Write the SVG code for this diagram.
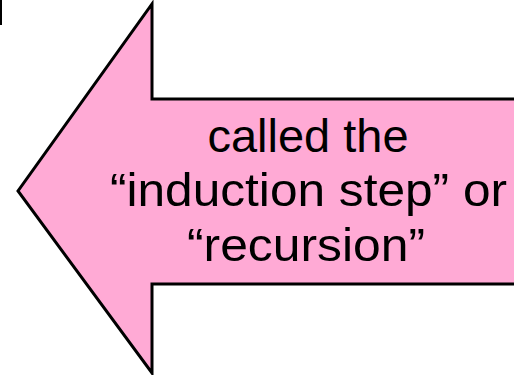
<svg xmlns="http://www.w3.org/2000/svg" width="514" height="375" viewBox="0 0 514 375">
<style>
.lbl{font-family:"Liberation Sans",Arial,sans-serif;font-size:47px;fill:#000;text-anchor:middle}
</style>
<rect width="514" height="375" fill="#fff"/>
<g id="corner-box">
<rect x="-20" y="-20" width="21" height="44" fill="#9FC4E8" stroke="#000" stroke-width="2"/>
</g>
<g id="arrow">
<polygon points="152,4 152,99 520,99 520,284 152,284 152,373 18,191" fill="#FFAAD5" stroke="#000" stroke-width="3" stroke-linejoin="miter"/>
<text class="lbl" x="308" y="152" textLength="201" lengthAdjust="spacingAndGlyphs">called the</text>
<text class="lbl" x="308.5" y="206" textLength="397" lengthAdjust="spacingAndGlyphs">“induction step” or</text>
<text class="lbl" x="306" y="261" textLength="238" lengthAdjust="spacingAndGlyphs">“recursion”</text>
</g>
</svg>
